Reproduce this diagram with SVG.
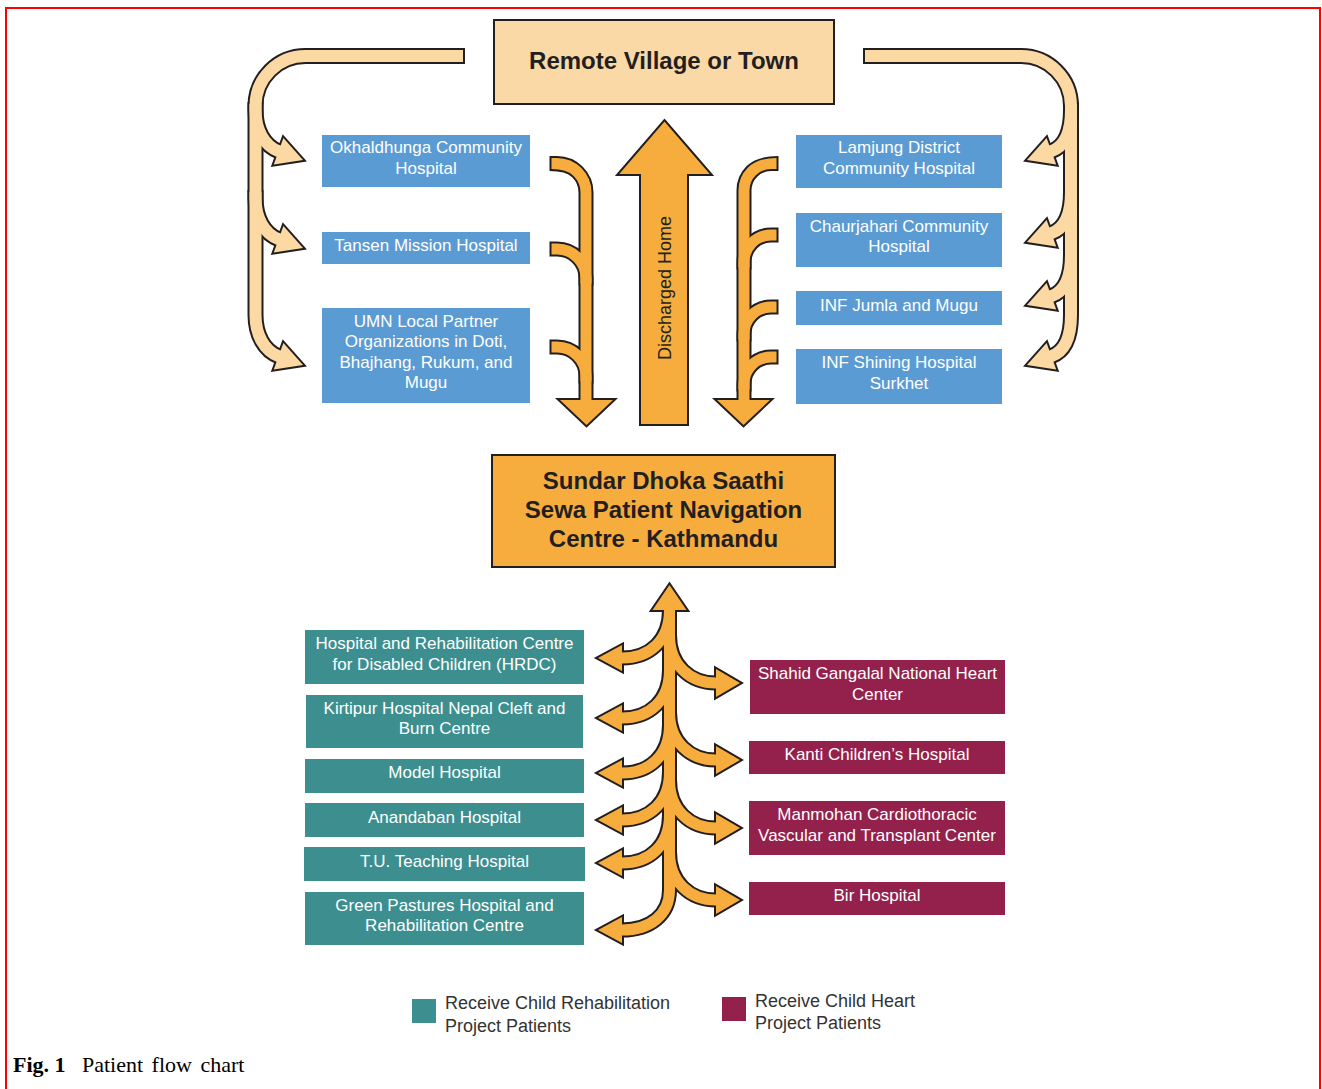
<svg xmlns="http://www.w3.org/2000/svg" width="1322" height="1089" viewBox="0 0 1322 1089">
<style>
.lbl{font-family:"Liberation Sans",Arial,sans-serif;font-size:17px;fill:#fff;text-anchor:middle}
.ttl{font-family:"Liberation Sans",Arial,sans-serif;font-size:24px;font-weight:bold;fill:#231f20;text-anchor:middle}
.leg{font-family:"Liberation Sans",Arial,sans-serif;font-size:18px;fill:#333}
.blue{fill:#5b9bd3}
.teal{fill:#3d8f8f}
.maroon{fill:#93214b}
.po path{fill:none;stroke:#231f20;stroke-width:16;stroke-linecap:square}
.po polygon{fill:#231f20;stroke:#231f20;stroke-width:4;stroke-linejoin:miter}
.pf path{fill:none;stroke:#fcd8a3;stroke-width:12;stroke-linecap:square}
.pf polygon{fill:#fcd8a3}
.oo path{fill:none;stroke:#231f20;stroke-width:15;stroke-linecap:square}
.oo polygon{fill:#231f20;stroke:#231f20;stroke-width:4;stroke-linejoin:miter}
.of path{fill:none;stroke:#f6ad3e;stroke-width:11;stroke-linecap:square}
.of polygon{fill:#f6ad3e}
</style>
<path d="M6,1089 V8 H1320 V1089" fill="none" stroke="#ff0000" stroke-width="2"/>

<g id="connectors">
  <!-- left peach arrow -->
  <g class="po">
    <path d="M457,56 H305.5 A50,50 0 0 0 255.5,106 V315 C255.5,335 264.5,351.1 278.6,356.2"/>
    <path d="M255.5,110 C255.5,130 264.5,146.1 278.6,151.2"/>
    <path d="M255.5,198 C255.5,218 264.5,234.1 278.6,239.2"/>
    <polygon points="303,160 283.4,138 273.8,164.4"/>
    <polygon points="303,248 283.4,226 273.8,252.4"/>
    <polygon points="303,365 283.4,343 273.8,369.4"/>
  </g>
  <g class="pf">
    <path d="M457,56 H305.5 A50,50 0 0 0 255.5,106 V315 C255.5,335 264.5,351.1 278.6,356.2"/>
    <path d="M255.5,110 C255.5,130 264.5,146.1 278.6,151.2"/>
    <path d="M255.5,198 C255.5,218 264.5,234.1 278.6,239.2"/>
    <polygon points="303,160 283.4,138 273.8,164.4"/>
    <polygon points="303,248 283.4,226 273.8,252.4"/>
    <polygon points="303,365 283.4,343 273.8,369.4"/>
  </g>
  <!-- right peach arrow -->
  <g class="po">
    <path d="M871,56 H1021 A50,50 0 0 1 1071,106 V315 C1071,335 1065.5,351.1 1051.4,356.2"/>
    <path d="M1071,110 C1071,130 1065.5,146.1 1051.4,151.2"/>
    <path d="M1071,192 C1071,212 1065.5,228.1 1051.4,233.2"/>
    <path d="M1071,255 C1071,275 1065.5,291.1 1051.4,296.2"/>
    <polygon points="1027,160 1046.6,138 1056.2,164.4"/>
    <polygon points="1027,242 1046.6,220 1056.2,246.4"/>
    <polygon points="1027,305 1046.6,283 1056.2,309.4"/>
    <polygon points="1027,365 1046.6,343 1056.2,369.4"/>
  </g>
  <g class="pf">
    <path d="M871,56 H1021 A50,50 0 0 1 1071,106 V315 C1071,335 1065.5,351.1 1051.4,356.2"/>
    <path d="M1071,110 C1071,130 1065.5,146.1 1051.4,151.2"/>
    <path d="M1071,192 C1071,212 1065.5,228.1 1051.4,233.2"/>
    <path d="M1071,255 C1071,275 1065.5,291.1 1051.4,296.2"/>
    <polygon points="1027,160 1046.6,138 1056.2,164.4"/>
    <polygon points="1027,242 1046.6,220 1056.2,246.4"/>
    <polygon points="1027,305 1046.6,283 1056.2,309.4"/>
    <polygon points="1027,365 1046.6,343 1056.2,369.4"/>
  </g>
  <!-- center down arrows -->
  <g class="oo">
    <path d="M557,163.5 A29,29 0 0 1 586,192.5 V402"/>
    <path d="M557,249 A29,29 0 0 1 586,278"/>
    <path d="M557,347 A29,29 0 0 1 586,376"/>
    <polygon points="560,400 613,400 586.5,425"/>
    <path d="M771,163.5 A27,27 0 0 0 744,190.5 V402"/>
    <path d="M771,235 A27,27 0 0 0 744,262"/>
    <path d="M771,307 A27,27 0 0 0 744,334"/>
    <path d="M771,357 A27,27 0 0 0 744,384"/>
    <polygon points="717,400 770,400 743.5,425"/>
  </g>
  <g class="of">
    <path d="M557,163.5 A29,29 0 0 1 586,192.5 V402"/>
    <path d="M557,249 A29,29 0 0 1 586,278"/>
    <path d="M557,347 A29,29 0 0 1 586,376"/>
    <polygon points="560,400 613,400 586.5,425"/>
    <path d="M771,163.5 A27,27 0 0 0 744,190.5 V402"/>
    <path d="M771,235 A27,27 0 0 0 744,262"/>
    <path d="M771,307 A27,27 0 0 0 744,334"/>
    <path d="M771,357 A27,27 0 0 0 744,384"/>
    <polygon points="717,400 770,400 743.5,425"/>
  </g>
  <!-- discharged home arrow -->
  <polygon points="640,425 688,425 688,175 712,175 664.5,120 617,175 640,175" fill="#f6ad3e" stroke="#231f20" stroke-width="2"/>
  <text transform="translate(670.5,288) rotate(-90)" font-family="'Liberation Sans',Arial,sans-serif" font-size="18" fill="#231f20" text-anchor="middle">Discharged Home</text>
  <!-- tree -->
  <g class="oo">
    <path d="M669.5,614 V890 C669.5,915 650,930 622,930"/>
    <path d="M669.5,610 C669.5,640 650,658 622,658"/>
    <path d="M669.5,670 C669.5,700 650,718 622,718"/>
    <path d="M669.5,725 C669.5,755 650,773 622,773"/>
    <path d="M669.5,772 C669.5,802 650,820 622,820"/>
    <path d="M669.5,815 C669.5,845 650,863 622,863"/>
    <path d="M669.5,635 C669.5,665 690,683 716,683"/>
    <path d="M669.5,712 C669.5,742 690,760 716,760"/>
    <path d="M669.5,780 C669.5,810 690,828 716,828"/>
    <path d="M669.5,852 C669.5,882 690,900 716,900"/>
    <polygon points="669.5,585 686.5,610 652.5,610"/>
    <polygon points="598,658 622,645 622,671"/>
    <polygon points="598,718 622,705 622,731"/>
    <polygon points="598,773 622,760 622,786"/>
    <polygon points="598,820 622,807 622,833"/>
    <polygon points="598,863 622,850 622,876"/>
    <polygon points="598,930 622,917 622,943"/>
    <polygon points="740,683 716,669 716,697"/>
    <polygon points="740,760 716,746 716,774"/>
    <polygon points="740,828 716,814 716,842"/>
    <polygon points="740,900 716,886 716,914"/>
  </g>
  <g class="of">
    <path d="M669.5,614 V890 C669.5,915 650,930 622,930"/>
    <path d="M669.5,610 C669.5,640 650,658 622,658"/>
    <path d="M669.5,670 C669.5,700 650,718 622,718"/>
    <path d="M669.5,725 C669.5,755 650,773 622,773"/>
    <path d="M669.5,772 C669.5,802 650,820 622,820"/>
    <path d="M669.5,815 C669.5,845 650,863 622,863"/>
    <path d="M669.5,635 C669.5,665 690,683 716,683"/>
    <path d="M669.5,712 C669.5,742 690,760 716,760"/>
    <path d="M669.5,780 C669.5,810 690,828 716,828"/>
    <path d="M669.5,852 C669.5,882 690,900 716,900"/>
    <polygon points="669.5,585 686.5,610 652.5,610"/>
    <polygon points="598,658 622,645 622,671"/>
    <polygon points="598,718 622,705 622,731"/>
    <polygon points="598,773 622,760 622,786"/>
    <polygon points="598,820 622,807 622,833"/>
    <polygon points="598,863 622,850 622,876"/>
    <polygon points="598,930 622,917 622,943"/>
    <polygon points="740,683 716,669 716,697"/>
    <polygon points="740,760 716,746 716,774"/>
    <polygon points="740,828 716,814 716,842"/>
    <polygon points="740,900 716,886 716,914"/>
  </g>
</g>

<g id="remote">
  <rect x="494" y="20" width="340" height="84" fill="#fbd9a7" stroke="#231f20" stroke-width="2"/>
  <text class="ttl" x="664" y="69">Remote Village or Town</text>
</g>
<g id="sundar">
  <rect x="492" y="455" width="343" height="112" fill="#f6ad3e" stroke="#231f20" stroke-width="2"/>
  <text class="ttl" x="663.5" y="489">Sundar Dhoka Saathi</text>
  <text class="ttl" x="663.5" y="518">Sewa Patient Navigation</text>
  <text class="ttl" x="663.5" y="547">Centre - Kathmandu</text>
</g>

<g id="okhaldhunga">
  <rect class="blue" x="322" y="135" width="208" height="52"/>
  <text class="lbl" x="426" y="153">Okhaldhunga Community</text>
  <text class="lbl" x="426" y="174">Hospital</text>
</g>
<g id="tansen">
  <rect class="blue" x="322" y="232" width="208" height="32"/>
  <text class="lbl" x="426" y="251">Tansen Mission Hospital</text>
</g>
<g id="umn">
  <rect class="blue" x="322" y="308" width="208" height="95"/>
  <text class="lbl" x="426" y="327">UMN Local Partner</text>
  <text class="lbl" x="426" y="347">Organizations in Doti,</text>
  <text class="lbl" x="426" y="368">Bhajhang, Rukum, and</text>
  <text class="lbl" x="426" y="388">Mugu</text>
</g>
<g id="lamjung">
  <rect class="blue" x="796" y="135" width="206" height="53"/>
  <text class="lbl" x="899" y="153">Lamjung District</text>
  <text class="lbl" x="899" y="174">Community Hospital</text>
</g>
<g id="chaurjahari">
  <rect class="blue" x="796" y="213" width="206" height="54"/>
  <text class="lbl" x="899" y="232">Chaurjahari Community</text>
  <text class="lbl" x="899" y="252">Hospital</text>
</g>
<g id="jumla">
  <rect class="blue" x="796" y="291" width="206" height="34"/>
  <text class="lbl" x="899" y="311">INF Jumla and Mugu</text>
</g>
<g id="shining">
  <rect class="blue" x="796" y="349" width="206" height="55"/>
  <text class="lbl" x="899" y="368">INF Shining Hospital</text>
  <text class="lbl" x="899" y="389">Surkhet</text>
</g>

<g id="hrdc">
  <rect class="teal" x="305" y="630" width="279" height="54"/>
  <text class="lbl" x="444.5" y="649">Hospital and Rehabilitation Centre</text>
  <text class="lbl" x="444.5" y="670">for Disabled Children (HRDC)</text>
</g>
<g id="kirtipur">
  <rect class="teal" x="306" y="695" width="277" height="53"/>
  <text class="lbl" x="444.5" y="714">Kirtipur Hospital Nepal Cleft and</text>
  <text class="lbl" x="444.5" y="734">Burn Centre</text>
</g>
<g id="model">
  <rect class="teal" x="305" y="759" width="279" height="34"/>
  <text class="lbl" x="444.5" y="778">Model Hospital</text>
</g>
<g id="anandaban">
  <rect class="teal" x="305" y="803" width="279" height="34"/>
  <text class="lbl" x="444.5" y="823">Anandaban Hospital</text>
</g>
<g id="tu">
  <rect class="teal" x="304" y="847" width="281" height="34"/>
  <text class="lbl" x="444.5" y="867">T.U. Teaching Hospital</text>
</g>
<g id="greenpastures">
  <rect class="teal" x="305" y="892" width="279" height="53"/>
  <text class="lbl" x="444.5" y="911">Green Pastures Hospital and</text>
  <text class="lbl" x="444.5" y="931">Rehabilitation Centre</text>
</g>

<g id="shahid">
  <rect class="maroon" x="750" y="660" width="255" height="54"/>
  <text class="lbl" x="877.5" y="679">Shahid Gangalal National Heart</text>
  <text class="lbl" x="877.5" y="700">Center</text>
</g>
<g id="kanti">
  <rect class="maroon" x="749" y="741" width="256" height="33"/>
  <text class="lbl" x="877" y="760">Kanti Children’s Hospital</text>
</g>
<g id="manmohan">
  <rect class="maroon" x="749" y="801" width="256" height="54"/>
  <text class="lbl" x="877" y="820">Manmohan Cardiothoracic</text>
  <text class="lbl" x="877" y="841">Vascular and Transplant Center</text>
</g>
<g id="bir">
  <rect class="maroon" x="749" y="882" width="256" height="33"/>
  <text class="lbl" x="877" y="901">Bir Hospital</text>
</g>

<g id="legend">
  <rect class="teal" x="412" y="999" width="24" height="24"/>
  <text class="leg" x="445" y="1009">Receive Child Rehabilitation</text>
  <text class="leg" x="445" y="1032">Project Patients</text>
  <rect class="maroon" x="722" y="997" width="24" height="24"/>
  <text class="leg" x="755" y="1007">Receive Child Heart</text>
  <text class="leg" x="755" y="1029">Project Patients</text>
</g>

<g id="caption" font-family="'Liberation Serif','Times New Roman',serif" font-size="22" fill="#000">
  <text x="13" y="1072" font-weight="bold">Fig. 1</text>
  <text x="82" y="1072" word-spacing="3">Patient flow chart</text>
</g>
</svg>
